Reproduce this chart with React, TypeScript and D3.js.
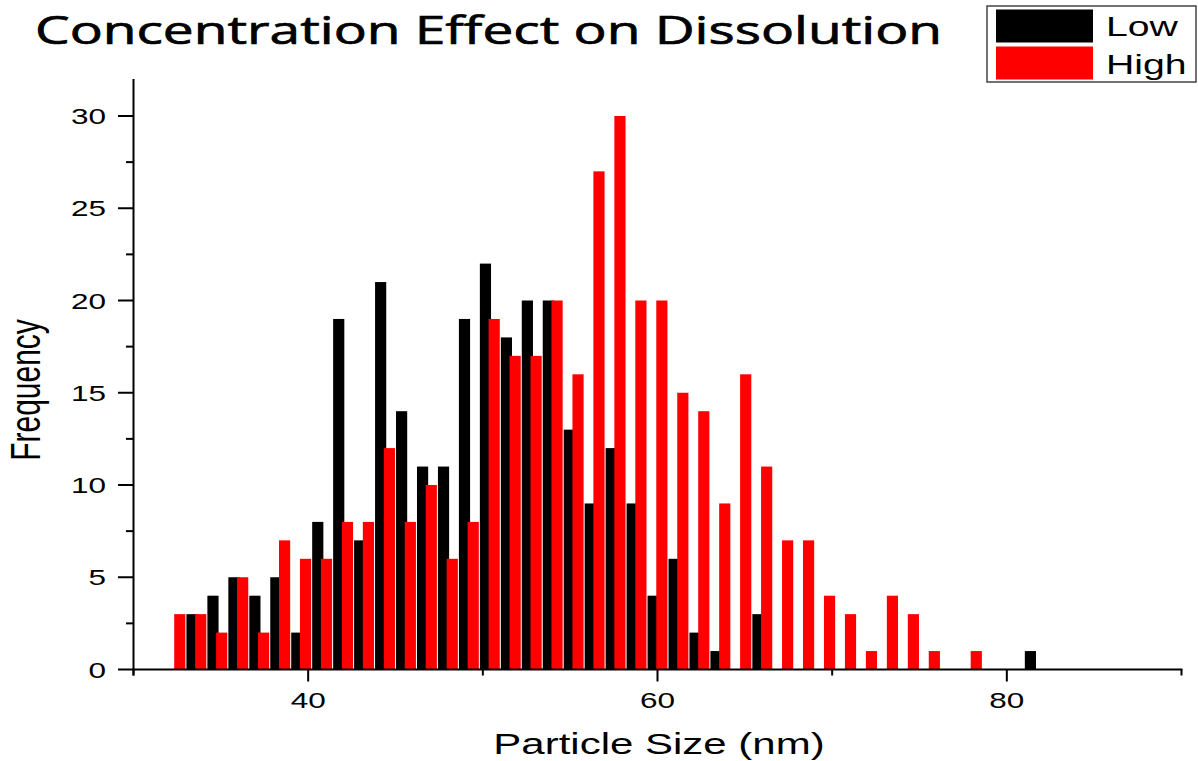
import React from "react";
import * as d3 from "d3";

// Histogram bin centres (nm)
const binCenters = [
  32.4, 33.6, 34.8, 36.0, 37.2, 38.4, 39.6, 40.8, 42.0, 43.2, 44.4, 45.6, 46.8, 48.0,
  49.2, 50.4, 51.6, 52.8, 54.0, 55.2, 56.4, 57.6, 58.8, 60.0, 61.2, 62.4, 63.6, 64.8,
  66.0, 67.2, 68.4, 69.6, 70.8, 72.0, 73.2, 74.4, 75.6, 76.8, 78.0, 79.2, 80.4, 81.6,
];

// Counts for the low-concentration sample
const lowCounts = [
  0, 3, 4, 5, 4, 5, 2, 8, 19, 7, 21, 14, 11, 11, 19, 22, 18, 20, 20, 13, 9, 12, 9, 4, 6, 2, 1,
  0, 3, 0, 0, 0, 0, 0, 0, 0, 0, 0, 0, 0, 0, 1,
];

// Counts for the high-concentration sample
const highCounts = [
  3, 3, 2, 5, 2, 7, 6, 6, 8, 8, 12, 8, 10, 6, 8, 19, 17, 17, 20, 16, 27, 30, 20, 20, 15, 14,
  9, 16, 11, 7, 7, 4, 3, 1, 4, 3, 1, 0, 1, 0, 0, 0,
];

const xMajorTicks = [40, 60, 80];
const xMinorTicks = [30, 50, 70, 90];
const yMajorTicks = [0, 5, 10, 15, 20, 25, 30];
const yMinorTicks = [2.5, 7.5, 12.5, 17.5, 22.5, 27.5];

const seriesNames = ["Low", "High"];
const seriesColors = ["#000000", "#ff0000"];

const W = 1198;
const H = 761;
const FONT = "'Liberation Sans', Arial, sans-serif";
const SX = 1.4; // horizontal stretch applied to the axis lettering

export default function App() {
  const x = d3.scaleLinear().domain([30, 90]).range([133.5, 1181.5]);
  const y = d3.scaleLinear().domain([0, 32]).range([669.5, 79.1]);

  const barW = x(30.64) - x(30);
  const shift = 0.25;

  const series = [lowCounts, highCounts];

  return (
    <svg
      width={W}
      height={H}
      style={{ position: "absolute", left: 0, top: 0, background: "#fff" }}
    >
      <rect x={0} y={0} width={W} height={H} fill="#fff" />

      {/* Title */}
      <text
        x={35}
        y={44}
        fontFamily="'Open Sans', 'Noto Sans', sans-serif"
        fontSize={39}
        textLength={907}
        lengthAdjust="spacingAndGlyphs"
        fill="#000"
        stroke="#000"
        strokeWidth={0.7}
      >
        Concentration Effect on Dissolution
      </text>

      {/* Bars: low first, high drawn over it */}
      {series.map((counts, si) => (
        <g key={seriesNames[si]} fill={seriesColors[si]}>
          {counts.map((v, i) => {
            if (!v) return null;
            const c = binCenters[i] + (si === 0 ? -shift : shift);
            return (
              <rect
                key={i}
                x={x(c) - barW / 2}
                y={y(v)}
                width={barW}
                height={y(0) - y(v)}
              />
            );
          })}
        </g>
      ))}

      {/* Axes */}
      <g stroke="#000" strokeWidth={2} fill="none">
        <line x1={x(30)} x2={x(30)} y1={y(0) + 6} y2={y(32)} />
        <line x1={x(30) - 1} x2={x(90) + 1} y1={y(0)} y2={y(0)} />
        {xMajorTicks.map((t) => (
          <line key={"xM" + t} x1={x(t)} x2={x(t)} y1={y(0)} y2={y(0) + 12} />
        ))}
        {xMinorTicks.map((t) => (
          <line key={"xm" + t} x1={x(t)} x2={x(t)} y1={y(0)} y2={y(0) + 6} />
        ))}
        {yMajorTicks.map((t) => (
          <line key={"yM" + t} x1={x(30) - 15.5} x2={x(30)} y1={y(t)} y2={y(t)} />
        ))}
        {yMinorTicks.map((t) => (
          <line key={"ym" + t} x1={x(30) - 7.5} x2={x(30)} y1={y(t)} y2={y(t)} />
        ))}
      </g>

      {/* Tick labels */}
      <g fontFamily={FONT} fontSize={22.5} fill="#000">
        {yMajorTicks.map((t) => (
          <text
            key={"yl" + t}
            transform={`translate(106,${y(t) + 8}) scale(${SX},1)`}
            textAnchor="end"
          >
            {t}
          </text>
        ))}
        {xMajorTicks.map((t) => (
          <text
            key={"xl" + t}
            transform={`translate(${x(t)},708) scale(${SX},1)`}
            textAnchor="middle"
          >
            {t}
          </text>
        ))}
      </g>

      {/* Axis titles */}
      <text
        transform={`translate(659,754) scale(${SX},1)`}
        textAnchor="middle"
        fontFamily={FONT}
        fontSize={30}
        fill="#000"
      >
        Particle Size (nm)
      </text>
      <text
        transform={`translate(40,390) scale(${SX},1) rotate(-90)`}
        textAnchor="middle"
        fontFamily={FONT}
        fontSize={30}
        fill="#000"
      >
        Frequency
      </text>

      {/* Legend */}
      <g>
        <rect x={987} y={6} width={209} height={76} fill="#fff" stroke="#444" strokeWidth={1.5} />
        {seriesNames.map((name, i) => (
          <g key={name}>
            <rect x={996} y={9.5 + i * 37} width={97} height={33} fill={seriesColors[i]} />
            <text
              transform={`translate(1106,${36 + i * 37.5}) scale(${SX},1)`}
              fontFamily={FONT}
              fontSize={28}
              fill="#000"
            >
              {name}
            </text>
          </g>
        ))}
      </g>
    </svg>
  );
}
